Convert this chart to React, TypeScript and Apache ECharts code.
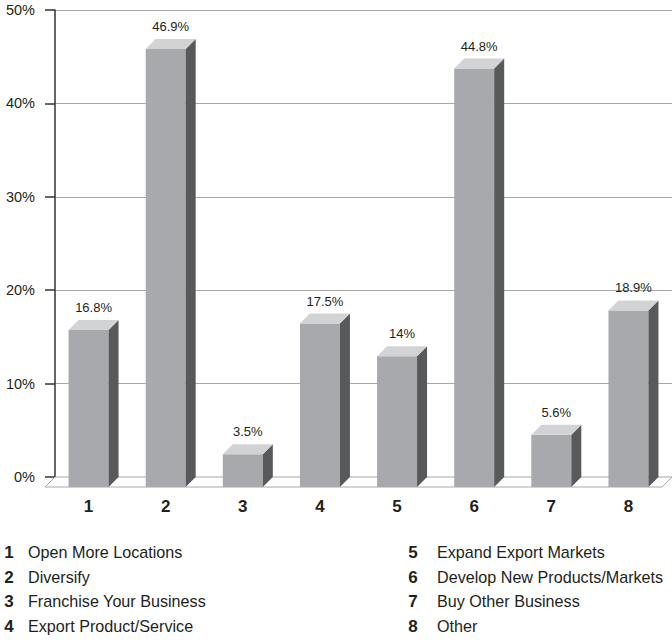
import React, { useEffect, useRef } from "react";
import * as echarts from "echarts";

const categories = ["1", "2", "3", "4", "5", "6", "7", "8"];
const values = [16.8, 46.9, 3.5, 17.5, 14, 44.8, 5.6, 18.9];
const legendLeft = [
  ["1", "Open More Locations"],
  ["2", "Diversify"],
  ["3", "Franchise Your Business"],
  ["4", "Export Product/Service"],
];
const legendRight = [
  ["5", "Expand Export Markets"],
  ["6", "Develop New Products/Markets"],
  ["7", "Buy Other Business"],
  ["8", "Other"],
];

const FONT = "'Liberation Sans', Arial, sans-serif";
const D = 10; // depth offset
const W = 40; // front face width

export default function App() {
  const ref = useRef<HTMLDivElement>(null);
  useEffect(() => {
    if (!ref.current) return;
    const chart = echarts.init(ref.current, null, { renderer: "svg" });

    const barData = values.map((v, i) => [i, v]);

    const legendGraphics: any[] = [];
    const rowY = [552, 577, 601, 626];
    const addCol = (items: string[][], nx: number, tx: number) => {
      items.forEach(([n, t], i) => {
        legendGraphics.push({
          type: "text",
          x: nx,
          y: rowY[i],
          style: { text: n, fontFamily: FONT, fontSize: 17, fontWeight: "bold", fill: "#231f20", textAlign: "center", textVerticalAlign: "middle" },
        });
        legendGraphics.push({
          type: "text",
          x: tx,
          y: rowY[i],
          scaleX: 0.95,
          style: { text: t, fontFamily: FONT, fontSize: 17, fill: "#231f20", textAlign: "left", textVerticalAlign: "middle" },
        });
      });
    };
    addCol(legendLeft, 9, 28);
    addCol(legendRight, 413, 437);

    chart.setOption({
      animation: false,
      backgroundColor: "#ffffff",
      grid: { left: 55, right: -4, top: 10, bottom: 165, containLabel: false },
      xAxis: {
        type: "category",
        data: categories,
        axisLine: { show: false },
        axisTick: { show: false },
        axisLabel: {
          margin: 21,
          fontFamily: FONT,
          fontSize: 17,
          fontWeight: "bold",
          color: "#231f20",
          padding: [0, 10, 0, 0],
        },
        splitLine: { show: false },
      },
      yAxis: {
        type: "value",
        min: 0,
        max: 50,
        interval: 10,
        axisLine: { show: true, lineStyle: { color: "#333", width: 1.5 } },
        axisTick: { show: true, length: 10, inside: false, lineStyle: { color: "#333", width: 1.5 } },
        axisLabel: {
          formatter: "{value}%",
          margin: 20,
          fontFamily: FONT,
          fontSize: 14.5,
          color: "#231f20",
        },
        splitLine: { show: true, lineStyle: { color: "#a8a8a8", width: 1 } },
      },
      graphic: legendGraphics,
      series: [
        {
          type: "custom",
          z: 1,
          clip: false,
          data: [[0, 0]],
          renderItem: (params: any, api: any) => {
            const cs = params.coordSys;
            const y0 = api.coord([0, 0])[1];
            const x1 = cs.x;
            const x2 = cs.x + cs.width;
            return {
              type: "polygon",
              shape: {
                points: [
                  [x1, y0],
                  [x2, y0],
                  [x2 - D, y0 + D],
                  [x1 - D, y0 + D],
                ],
              },
              style: { fill: "#ffffff", stroke: "#a8a8a8", lineWidth: 1 },
            };
          },
        },
        {
          type: "custom",
          z: 2,
          clip: false,
          data: barData,
          renderItem: (params: any, api: any) => {
            const idx = api.value(0);
            const v = api.value(1);
            const top = api.coord([idx, v]);
            const base = api.coord([idx, 0]);
            const cx = top[0];
            const fl = cx - W / 2 - D / 2;
            const fr = fl + W;
            const ft = top[1] + D;
            const fb = base[1] + D;
            return {
              type: "group",
              children: [
                {
                  type: "rect",
                  shape: { x: fl, y: ft, width: W, height: fb - ft },
                  style: { fill: "#a7a9ac" },
                },
                {
                  type: "polygon",
                  shape: { points: [[fr, ft], [fr + D, ft - D], [fr + D, fb - D], [fr, fb]] },
                  style: { fill: "#58595b" },
                },
                {
                  type: "polygon",
                  shape: { points: [[fl, ft], [fl + D, ft - D], [fr + D, ft - D], [fr, ft]] },
                  style: { fill: "#d1d3d4" },
                },
                {
                  type: "text",
                  x: cx,
                  y: top[1] - 6,
                  style: {
                    text: v + "%",
                    fontFamily: FONT,
                    fontSize: 13,
                    fill: "#231f20",
                    textAlign: "center",
                    textVerticalAlign: "bottom",
                  },
                },
              ],
            };
          },
        },
      ],
    });
    return () => chart.dispose();
  }, []);
  return (
    <div
      ref={ref}
      style={{ position: "fixed", left: 0, top: 0, width: 672, height: 642 }}
    />
  );
}
